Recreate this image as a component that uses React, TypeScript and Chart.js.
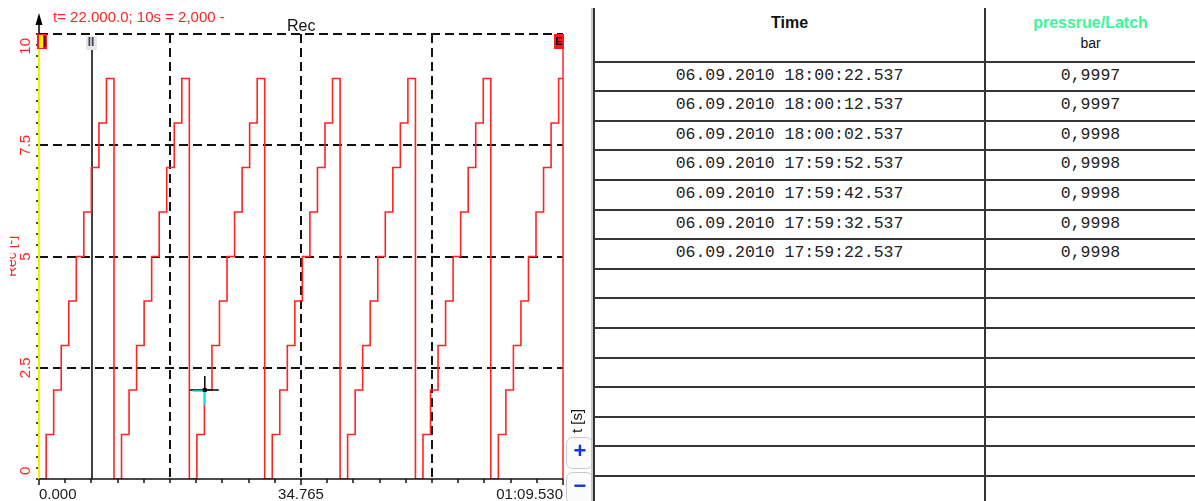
import React, { useEffect, useRef } from 'react';
import { Chart, registerables } from 'chart.js';

Chart.register(...registerables);

// ---- chart data (seconds, latch value) ----
const timeS = [
  0, 0.95, 1.95, 2.95, 3.95, 4.95, 5.95, 6.95, 7.95, 8.95,
  9.95, 10.95, 11.95, 12.95, 13.95, 14.95, 15.95, 16.95, 17.95, 18.95,
  19.95, 20.95, 21.95, 22.95, 23.95, 24.95, 25.95, 26.95, 27.95, 28.95,
  29.95, 30.95, 31.95, 32.95, 33.95, 34.95, 35.95, 36.95, 37.95, 38.95,
  39.95, 40.95, 41.95, 42.95, 43.95, 44.95, 45.95, 46.95, 47.95, 48.95,
  49.95, 50.95, 51.95, 52.95, 53.95, 54.95, 55.95, 56.95, 57.95, 58.95,
  59.95, 60.95, 61.95, 62.95, 63.95, 64.95, 65.95, 66.95, 67.95, 68.95,
  69.53,
];
const latchValues = [
  0, 1, 2, 3, 4, 5, 6, 7, 8, 9,
  0, 1, 2, 3, 4, 5, 6, 7, 8, 9,
  0, 1, 2, 3, 4, 5, 6, 7, 8, 9,
  0, 1, 2, 3, 4, 5, 6, 7, 8, 9,
  0, 1, 2, 3, 4, 5, 6, 7, 8, 9,
  0, 1, 2, 3, 4, 5, 6, 7, 8, 9,
  0, 1, 2, 3, 4, 5, 6, 7, 8, 9,
  9,
];

const yTickValues = [0, 2.5, 5, 7.5, 10];
const yTickLabels = ['0', '2.5', '5', '7.5', '10'];
const xTickValues = [0, 34.765, 69.53];
const xTickLabels = ['0.000', '34.765', '01:09.530'];
const xGridValues = [17.3825, 34.765, 52.1475];
const yGridValues = [2.5, 5, 7.5, 10];
const xMinorStep = 3.4765;
const yMinorStep = 0.25;
const markerIIT = 7.03;
const cursorT = 22;
const cursorV = 2;

const titleText = 't= 22.000.0; 10s = 2,000 -';
const channelLabel = 'Rec';
const yAxisTitle = 'Rec [-]';
const xAxisTitle = 't [s]';

// ---- table data ----
const tableHeaders = ['Time', 'pressrue/Latch'];
const tableUnit = 'bar';
const rowTimes = [
  '06.09.2010 18:00:22.537',
  '06.09.2010 18:00:12.537',
  '06.09.2010 18:00:02.537',
  '06.09.2010 17:59:52.537',
  '06.09.2010 17:59:42.537',
  '06.09.2010 17:59:32.537',
  '06.09.2010 17:59:22.537',
];
const rowValues = ['0,9997', '0,9997', '0,9998', '0,9998', '0,9998', '0,9998', '0,9998'];

const SANS = '"Liberation Sans", Arial, sans-serif';
const MONO = '"Liberation Mono", "Courier New", monospace';
const RED = '#ff2424';

function line(ctx: CanvasRenderingContext2D, x1: number, y1: number, x2: number, y2: number) {
  ctx.beginPath();
  ctx.moveTo(x1, y1);
  ctx.lineTo(x2, y2);
  ctx.stroke();
}

function rotText(ctx: CanvasRenderingContext2D, text: string, x: number, y: number, align: CanvasTextAlign) {
  ctx.save();
  ctx.translate(x, y);
  ctx.rotate(-Math.PI / 2);
  ctx.textAlign = align;
  ctx.textBaseline = 'alphabetic';
  ctx.fillText(text, 0, 0);
  ctx.restore();
}

const overlayPlugin = {
  id: 'overlay',
  beforeDatasetsDraw(chart: any) {
    const { ctx, chartArea: a, scales } = chart;
    const x = scales.x;
    const y = scales.y;
    ctx.save();
    ctx.strokeStyle = '#111';
    ctx.lineWidth = 2;
    ctx.setLineDash([9, 5]);
    yGridValues.forEach((v) => {
      const py = Math.round(y.getPixelForValue(v));
      line(ctx, a.left, py, a.right, py);
    });
    xGridValues.forEach((v) => {
      const px = Math.round(x.getPixelForValue(v));
      line(ctx, px, a.top, px, a.bottom);
    });
    ctx.setLineDash([]);
    // marker II line
    const mx = Math.round(x.getPixelForValue(markerIIT));
    ctx.strokeStyle = '#000';
    ctx.lineWidth = 1.5;
    line(ctx, mx, a.top + 16, mx, a.bottom);
    ctx.restore();
  },
  afterDatasetsDraw(chart: any) {
    const { ctx, chartArea: a, scales } = chart;
    const x = scales.x;
    const y = scales.y;
    ctx.save();

    // left yellow, right red borders
    ctx.lineWidth = 2;
    ctx.strokeStyle = '#f2f200';
    line(ctx, a.left, a.top, a.left, a.bottom);
    ctx.lineWidth = 1.5;
    ctx.strokeStyle = RED;
    line(ctx, a.right, a.top, a.right, a.bottom);

    // bottom axis
    ctx.strokeStyle = '#111';
    ctx.lineWidth = 1.5;
    line(ctx, a.left, a.bottom, a.right, a.bottom);
    for (let v = 0; v <= 69.53 + 1e-6; v += xMinorStep) {
      const px = Math.round(x.getPixelForValue(v));
      const major = xTickValues.some((t) => Math.abs(t - v) < 0.01);
      line(ctx, px, a.bottom, px, a.bottom + (major ? 6 : 4));
    }

    // y minor dots
    ctx.fillStyle = '#444';
    for (let v = 0; v <= 10 + 1e-6; v += yMinorStep) {
      const py = Math.round(y.getPixelForValue(v));
      ctx.fillRect(a.left - 3, py - 1, 2, 2);
    }

    // arrow at top of y axis
    ctx.strokeStyle = '#000';
    ctx.lineWidth = 1.5;
    line(ctx, a.left, a.top, a.left, 20);
    ctx.fillStyle = '#000';
    ctx.beginPath();
    ctx.moveTo(a.left, 13);
    ctx.lineTo(a.left - 3.5, 25);
    ctx.lineTo(a.left + 3.5, 25);
    ctx.closePath();
    ctx.fill();

    // start marker box
    ctx.fillStyle = '#ff1a1a';
    ctx.fillRect(a.left - 2, a.top, 10, 15);
    ctx.fillStyle = '#ffee00';
    ctx.fillRect(a.left, a.top + 1, 4, 13);
    ctx.fillStyle = '#5a0000';
    ctx.fillRect(a.left + 5, a.top + 2, 1.5, 11);

    // marker II box
    const mx = Math.round(x.getPixelForValue(markerIIT));
    ctx.fillStyle = '#e6e6e6';
    ctx.fillRect(mx - 6, a.top + 2, 11, 14);
    ctx.fillStyle = '#3a4050';
    ctx.font = `bold 12px ${SANS}`;
    ctx.textAlign = 'center';
    ctx.textBaseline = 'middle';
    ctx.fillText('II', mx - 1, a.top + 9);

    // end marker box
    ctx.fillStyle = '#ff1a1a';
    ctx.fillRect(a.right - 9, a.top, 10, 15);
    ctx.fillStyle = '#000';
    ctx.font = `bold 11px ${SANS}`;
    ctx.fillText('E', a.right - 4, a.top + 8);

    // cursor cross
    const cx = x.getPixelForValue(cursorT);
    const cy = Math.round(y.getPixelForValue(cursorV));
    ctx.lineWidth = 1.5;
    ctx.strokeStyle = '#000';
    line(ctx, cx - 15, cy, cx + 14, cy);
    line(ctx, cx, cy - 14, cx, cy);
    ctx.strokeStyle = '#00e5f0';
    line(ctx, cx - 12, cy + 1, cx, cy + 1);
    line(ctx, cx, cy + 1, cx, cy + 15);
    ctx.fillStyle = '#000';
    ctx.fillRect(cx - 2, cy - 2, 4, 4);

    // title texts
    ctx.textBaseline = 'alphabetic';
    ctx.textAlign = 'left';
    ctx.fillStyle = RED;
    ctx.font = `15px ${SANS}`;
    ctx.fillText(titleText, 53, 22);
    ctx.fillStyle = '#111';
    ctx.font = `16px ${SANS}`;
    ctx.fillText(channelLabel, 287, 31);

    // x tick labels
    ctx.fillStyle = '#1a1a1a';
    ctx.font = `15px ${SANS}`;
    xTickValues.forEach((v, i) => {
      const px = x.getPixelForValue(v);
      ctx.textAlign = i === 0 ? 'left' : i === xTickValues.length - 1 ? 'right' : 'center';
      ctx.fillText(xTickLabels[i], px, 499);
    });

    // y tick labels (rotated)
    ctx.fillStyle = RED;
    ctx.font = `15px ${SANS}`;
    yTickValues.forEach((v, i) => {
      const py = y.getPixelForValue(v);
      if (i === yTickValues.length - 1) rotText(ctx, yTickLabels[i], 30, py + 4, 'right');
      else if (i === 0) rotText(ctx, yTickLabels[i], 30, py - 4, 'left');
      else rotText(ctx, yTickLabels[i], 30, py, 'center');
    });

    // y title, clipped at the left
    ctx.save();
    ctx.beginPath();
    ctx.rect(10, 0, 40, 501);
    ctx.clip();
    ctx.font = `14px ${SANS}`;
    rotText(ctx, yAxisTitle, 16, (a.top + a.bottom) / 2, 'center');
    ctx.restore();

    // x title (rotated) and zoom buttons
    ctx.fillStyle = '#111';
    ctx.font = `15px ${SANS}`;
    rotText(ctx, xAxisTitle, 582, 421, 'center');

    const drawBtn = (top: number, label: string) => {
      ctx.save();
      ctx.fillStyle = '#fbfbfb';
      ctx.strokeStyle = '#c9c9c9';
      ctx.lineWidth = 1;
      ctx.beginPath();
      (ctx as any).roundRect(566.5, top + 0.5, 26, 31, 6);
      ctx.fill();
      ctx.stroke();
      ctx.fillStyle = '#1634e6';
      ctx.font = `bold 22px ${SANS}`;
      ctx.textAlign = 'center';
      ctx.textBaseline = 'middle';
      ctx.fillText(label, 580, top + 15);
      ctx.restore();
    };
    drawBtn(437, '+');
    drawBtn(472, '−');

    ctx.restore();
  },
};

export default function App() {
  const ref = useRef<HTMLCanvasElement | null>(null);

  useEffect(() => {
    if (!ref.current) return;
    const chart = new Chart(ref.current, {
      type: 'line',
      data: {
        datasets: [
          {
            data: timeS.map((t, i) => ({ x: t, y: latchValues[i] })),
            borderColor: RED,
            borderWidth: 1.6,
            stepped: true,
            pointRadius: 0,
            fill: false,
          },
        ],
      },
      options: {
        animation: false,
        responsive: false,
        devicePixelRatio: 1,
        events: [],
        layout: { padding: { left: 39, right: 30, top: 34, bottom: 22 } },
        scales: {
          x: { type: 'linear', min: 0, max: 69.53, display: false },
          y: { type: 'linear', min: 0, max: 10, display: false },
        },
        plugins: { legend: { display: false }, tooltip: { enabled: false } },
      },
      plugins: [overlayPlugin],
    } as any);
    return () => chart.destroy();
  }, []);

  const rowLines = Array.from({ length: 15 }, (_, i) => Math.round(60.5 + i * 29.6));

  return (
    <div style={{ position: 'absolute', left: 0, top: 0, width: 1195, height: 501, overflow: 'hidden', background: '#fff' }}>
      <canvas ref={ref} width={593} height={501} style={{ position: 'absolute', left: 0, top: 0 }} />
      {/* table */}
      <div style={{ position: 'absolute', left: 591, top: 8, width: 2, height: 493, background: '#c6c6c6' }} />
      <div style={{ position: 'absolute', left: 593, top: 8, width: 2, height: 493, background: '#333' }} />
      <div style={{ position: 'absolute', left: 984, top: 8, width: 2, height: 493, background: '#333' }} />
      {rowLines.map((t, i) => (
        <div key={'l' + i} style={{ position: 'absolute', left: 595, top: t, width: 600, height: 2, background: '#363636' }} />
      ))}
      <div style={{ position: 'absolute', left: 595, top: 14, width: 389, height: 20, lineHeight: '20px', textAlign: 'center', font: `bold 16px ${SANS}`, color: '#111' }}>
        {tableHeaders[0]}
      </div>
      <div style={{ position: 'absolute', left: 986, top: 14, width: 209, height: 20, lineHeight: '20px', textAlign: 'center', font: `bold 16px ${SANS}`, color: '#3df59b' }}>
        {tableHeaders[1]}
      </div>
      <div style={{ position: 'absolute', left: 986, top: 35, width: 209, height: 20, lineHeight: '20px', textAlign: 'center', font: `14px ${SANS}`, color: '#111' }}>
        {tableUnit}
      </div>
      {rowTimes.map((s, i) => (
        <div key={'t' + i} style={{ position: 'absolute', left: 595, top: rowLines[i] + 5, width: 389, height: 28, lineHeight: '28px', textAlign: 'center', font: `16.5px ${MONO}`, color: '#222', whiteSpace: 'pre' }}>
          {s}
        </div>
      ))}
      {rowValues.map((s, i) => (
        <div key={'v' + i} style={{ position: 'absolute', left: 986, top: rowLines[i] + 5, width: 209, height: 28, lineHeight: '28px', textAlign: 'center', font: `16.5px ${MONO}`, color: '#222', whiteSpace: 'pre' }}>
          {s}
        </div>
      ))}
    </div>
  );
}
